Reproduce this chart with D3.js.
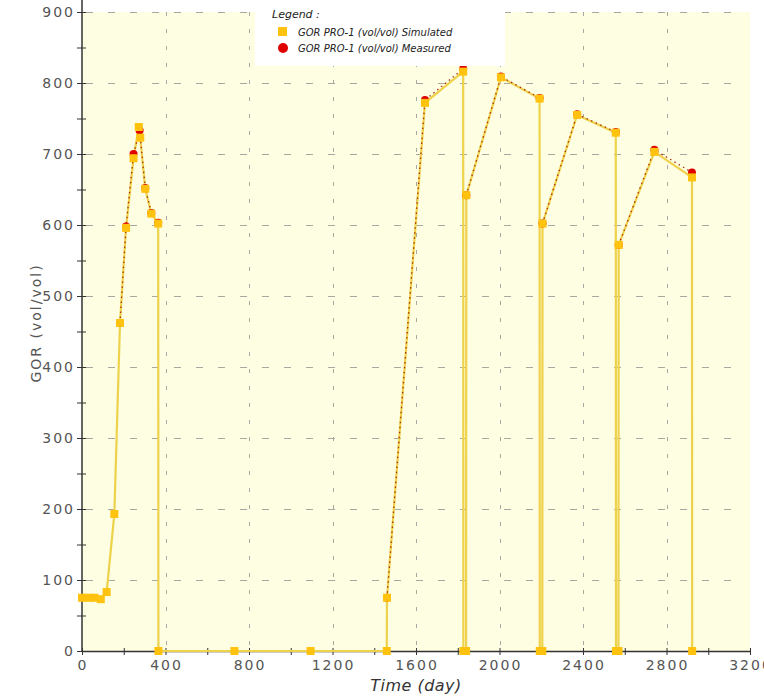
<!DOCTYPE html>
<html>
<head>
<meta charset="utf-8">
<script src="https://cdn.jsdelivr.net/npm/d3@7"></script>
<style>
  html, body { margin: 0; padding: 0; background: #ffffff; }
  svg { display: block; }
</style>
</head>
<body>
<svg id="chart" width="764" height="696"></svg>
<script>
// ---- data ----
const simTime = [0, 31, 59, 90, 118, 155, 182, 211, 247, 272, 279, 303, 332, 365, 366,
  730, 1095, 1460, 1461, 1643, 1826, 1827, 1840, 1841, 2007, 2192, 2193, 2205, 2206,
  2372, 2557, 2558, 2570, 2571, 2742, 2922, 2923];
const simGOR = [75, 75, 75, 73, 83, 193, 462, 596, 694, 738, 723, 651, 616, 602, 0,
  0, 0, 0, 75, 772, 816, 0, 0, 642, 808, 778, 0, 0, 602,
  755, 730, 0, 0, 572, 703, 667, 0];

// measured: null marks a gap between production periods
const measTime = [182, 211, 247, 276, 303, 332, 365, null,
  1461, 1643, 1826, null,
  1841, 2007, 2192, null,
  2206, 2372, 2557, null,
  2571, 2742, 2922];
const measGOR = [462, 598, 700, 733, 652, 617, 603, null,
  75, 776, 820, null,
  642, 809, 779, null,
  602, 756, 731, null,
  572, 706, 674];

const xTicks = [0, 400, 800, 1200, 1600, 2000, 2400, 2800, 3200];
const yTicks = [0, 100, 200, 300, 400, 500, 600, 700, 800, 900];
const legendLabels = ["GOR PRO-1 (vol/vol) Simulated", "GOR PRO-1 (vol/vol) Measured"];

// ---- layout ----
const pLeft = 82, pRight = 750, pTop = 12, pBottom = 651;
const svg = d3.select("#chart");
const x = d3.scaleLinear().domain([0, 3200]).range([pLeft, pRight]);
const y = d3.scaleLinear().domain([0, 900]).range([pBottom, pTop]);

// plot background
svg.append("rect").attr("x", pLeft).attr("y", pTop).attr("width", pRight - pLeft)
  .attr("height", pBottom - pTop).attr("fill", "#fefee2");

// grid
const grid = svg.append("g");
grid.selectAll("line.h").data(yTicks.filter(d => d > 0)).join("line")
  .attr("x1", pLeft).attr("x2", pRight - 12)
  .attr("y1", d => Math.round(y(d)) + 0.5).attr("y2", d => Math.round(y(d)) + 0.5)
  .attr("stroke", "#a8a8a0").attr("stroke-width", 1).attr("stroke-dasharray", "7,15")
  .attr("stroke-dashoffset", -4);
grid.selectAll("line.v").data(xTicks.filter(d => d > 0 && d < 3200)).join("line")
  .attr("x1", d => Math.round(x(d)) + 0.5).attr("x2", d => Math.round(x(d)) + 0.5)
  .attr("y1", pTop).attr("y2", pBottom)
  .attr("stroke", "#a8a8a0").attr("stroke-width", 1).attr("stroke-dasharray", "4,13");

// axes
const xAxis = d3.axisBottom(x).tickValues(d3.range(0, 3201, 200)).tickSize(0).tickFormat("");
const gx = svg.append("g").attr("transform", `translate(0,${pBottom})`).call(xAxis);
gx.select(".domain").attr("stroke", "#333").attr("stroke-width", 1.5);
gx.selectAll(".tick line").attr("y1", -3).attr("y2", 4).attr("stroke", "#333");

const yAxis = d3.axisLeft(y).tickValues(d3.range(0, 901, 50)).tickSize(0).tickFormat("");
const gy = svg.append("g").attr("transform", `translate(${pLeft},0)`).call(yAxis);
gy.select(".domain").remove();
svg.append("line").attr("x1", pLeft).attr("x2", pLeft).attr("y1", 0).attr("y2", pBottom)
  .attr("stroke", "#333").attr("stroke-width", 1.5);
gy.selectAll(".tick line").attr("x1", -5).attr("x2", 4).attr("stroke", "#333");

// tick labels
svg.append("g").selectAll("text").data(xTicks).join("text")
  .attr("x", d => x(d) + 1).attr("y", 670)
  .attr("text-anchor", "middle")
  .attr("font-family", "DejaVu Sans").attr("font-size", 14)
  .attr("letter-spacing", 2).attr("fill", "#555")
  .text(d => d);
svg.append("g").selectAll("text").data(yTicks).join("text")
  .attr("x", 75).attr("y", d => y(d) + 5)
  .attr("text-anchor", "end")
  .attr("font-family", "DejaVu Sans").attr("font-size", 14)
  .attr("letter-spacing", 2).attr("fill", "#555")
  .text(d => d);

// axis titles
svg.append("text").attr("x", 416).attr("y", 691).attr("text-anchor", "middle")
  .attr("font-family", "DejaVu Sans").attr("font-style", "italic").attr("font-size", 16)
  .attr("letter-spacing", 0.5).attr("fill", "#333").text("Time (day)");
svg.append("text").attr("transform", "translate(41,323) rotate(-90)")
  .attr("text-anchor", "middle")
  .attr("font-family", "DejaVu Sans").attr("font-size", 14)
  .attr("letter-spacing", 2).attr("fill", "#555").text("GOR (vol/vol)");

// series
const sim = simTime.map((t, i) => ({ t, v: simGOR[i] }));
const meas = measTime.map((t, i) => ({ t, v: measGOR[i] }));

const line = d3.line().defined(d => d.t !== null && d.v !== null)
  .x(d => x(d.t)).y(d => y(d.v));

svg.append("path").datum(sim).attr("d", line)
  .attr("fill", "none").attr("stroke", "#eed24c").attr("stroke-width", 2.2);

svg.append("path").datum(meas).attr("d", line)
  .attr("fill", "none").attr("stroke", "#a83010").attr("stroke-width", 1.3)
  .attr("stroke-dasharray", "1.5,3.5");

svg.append("g").selectAll("circle").data(meas.filter(d => d.t !== null)).join("circle")
  .attr("cx", d => x(d.t)).attr("cy", d => y(d.v)).attr("r", 4)
  .attr("fill", "#e00000");

svg.append("g").selectAll("rect").data(sim).join("rect")
  .attr("x", d => x(d.t) - 4).attr("y", d => y(d.v) - 4)
  .attr("width", 8).attr("height", 8).attr("fill", "#ffc20e");

// legend
const lg = svg.append("g");
lg.append("rect").attr("x", 255).attr("y", 0).attr("width", 250).attr("height", 66)
  .attr("fill", "#ffffff");
lg.append("text").attr("x", 272).attr("y", 18)
  .attr("font-family", "DejaVu Sans").attr("font-style", "italic").attr("font-size", 11)
  .attr("fill", "#222").text("Legend :");
lg.append("rect").attr("x", 278).attr("y", 27).attr("width", 9).attr("height", 9)
  .attr("fill", "#ffc20e");
lg.append("circle").attr("cx", 283).attr("cy", 48).attr("r", 5).attr("fill", "#e00000");
lg.selectAll("text.item").data(legendLabels).join("text")
  .attr("x", 298).attr("y", (d, i) => 36 + i * 16)
  .attr("font-family", "DejaVu Sans").attr("font-style", "italic").attr("font-size", 10)
  .attr("fill", "#222").text(d => d);
</script>
</body>
</html>
